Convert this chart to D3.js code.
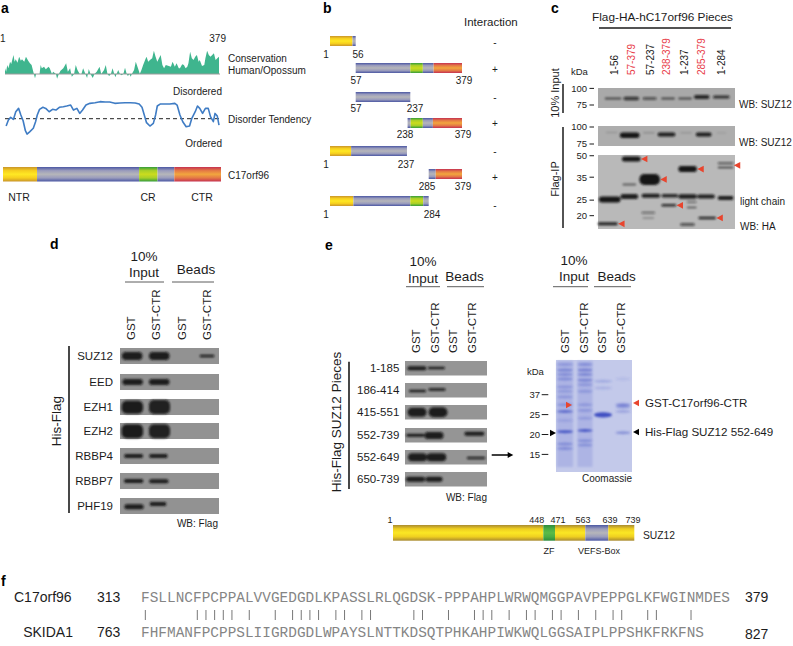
<!DOCTYPE html>
<html><head><meta charset="utf-8">
<script src="https://cdn.jsdelivr.net/npm/d3@7"></script>
<style>html,body{margin:0;padding:0;background:#fff}svg{display:block}text{font-family:"Liberation Sans",Arial,sans-serif;fill:#1c1c1c}</style>
</head><body><svg id="c" width="793" height="646"></svg>
<script>
// ---- panel a data
const consRes=[1,3,5,7,10,12,16,18,20,23,26,29,31,35,38,42,45,48,51,52,54,56,62,64,66,70,73,78,80,84,86,91,93,96,99,104,109,112,116,119,123,126,129,133,136,139,143,146,149,152,156,159,163,168,171,172,176,179,182,185,188,191,194,196,198,201,204,207,210,213,216,218,221,223,225,229,232,235,238,239,242,245,249,251,254,257,261,264,267,270,273,276,279,282,285,289,294,297,301,304,308,310,314,317,320,323,325,328,331,334,337,340,343,345,349,353,355,358,361,364,367,370,373,376,379];
const consVal=[5.7,2.3,9,5.7,12.3,10,19,12.3,14.7,11.3,17.3,13.3,14.7,12.3,17.3,13.3,10.7,9,2.3,0,-4.3,0,0,9,5.7,7.3,4.7,7.3,5.7,0,2.3,0,-4.7,0,3.3,5.7,10.7,2.3,5.7,-2.7,0,9,4,0,0,5.7,0,-4,5,0,-4,0,2.3,7.3,0,.7,4,9,0,-2,0,5.7,0,-3.3,0,4,0,-1.3,0,6.3,0,-2,0,-2.7,0,4,12.3,7.3,2.3,0,4,9,14.7,17.3,12.3,14,15.7,23.3,17.3,12.3,15.7,19,9,5.7,9,8.3,7.3,12.3,7.3,10.7,5.7,5.7,9.7,9,5.7,7.3,10.7,22.3,15.7,14,17.3,19,12.3,14,8,9,15.7,23.3,19,17.3,19,20.7,14,15.7,17.3];
const disRes=[3,7,11,16,20,25,29,33,37,40,45,51,55,58,62,68,73,79,85,91,97,104,110,117,122,128,133,138,144,151,160,169,178,186,195,204,213,222,231,238,243,247,251,257,263,267,270,275,284,292,301,305,310,315,321,327,331,337,341,345,350,355,360,364,369,372,376,379];
const disVal=[.439,.489,.511,.495,.558,.586,.531,.483,.4,.372,.392,.42,.475,.531,.578,.595,.586,.558,.578,.572,.595,.6,.606,.614,.572,.586,.544,.572,.614,.628,.633,.642,.639,.639,.628,.631,.633,.633,.631,.622,.595,.531,.467,.439,.461,.531,.606,.622,.622,.622,.628,.614,.531,.475,.433,.439,.503,.558,.606,.586,.544,.586,.586,.517,.475,.544,.522,.447];
const proteinSegs=[[1,60,"ntr"],[60,237,"lnk"],[237,269,"cr"],[269,298,"lnk"],[298,379,"ctr"]];
const regionNames=["NTR","CR","CTR"];
// ---- panel b data
const fragments=[
 {a:"1",b:"56",i:"-",segs:[[1,50,"ntr"],[50,57,"lnk"]]},
 {a:"57",b:"379",i:"+",segs:[[57,237,"lnk"],[237,269,"cr"],[269,298,"lnk"],[298,379,"ctr"]]},
 {a:"57",b:"237",i:"-",segs:[[57,237,"lnk"]]},
 {a:"238",b:"379",i:"+",segs:[[228,238,"lnk"],[238,269,"cr"],[269,296,"lnk"],[296,379,"ctr"]]},
 {a:"1",b:"237",i:"-",segs:[[1,47,"ntr"],[47,226,"lnk"]]},
 {a:"285",b:"379",i:"+",segs:[[284,304,"lnk"],[304,379,"ctr"]]},
 {a:"1",b:"284",i:"-",segs:[[1,52,"ntr"],[52,237,"lnk"],[237,270,"cr"],[270,284,"lnk"]]}];
// ---- panel c data
const cLanes=["1-56","57-379","57-237","238-379","1-237","285-379","1-284"];
const cHits=["57-379","238-379","285-379"];
// band: lane, migration %, thickness, darkness, width (lanes), offset (lanes)
const cInput=[[0,53,2,.6,.85,.27],[1,53,3.5,.75,.8,.2],[2,53,2.5,.65,.7,.14],[3,53,2,.6,.7,.08],[4,52,2,.6,.7,-.05],[5,45,4,.85,.8,-.2],[6,45,3,.8,.85,-.2]];
const cIP=[[0,33,1.5,.15,.6,.2],[1,46,5.5,1,1,.12],[2,34,1.5,.2,.6,.1],[3,42,4,.95,.9,0],[4,34,1.5,.15,.6,0],[5,42,4,.95,.8,-.1],[6,34,1.2,.12,.5,-.2]];
const cHA=[[0,60,6,1,1.1,.1],[0,93,3,.9,1.02,0],[1,5.4,5,1,.95,.2],[1,40,2,.5,.7,.1],[1,56,5,.95,.9,.1],[2,33,11,1,1.05,.14],[2,55,4,.9,.95,.2],[2,78,2,.5,.7,.07],[2,85,1.5,.3,.6,.07],[3,55,3.5,.85,.85,.17],[3,68,2.5,.85,.75,.12],[4,19,6,1,.95,.08],[4,56,4.5,.95,.95,.08],[4,63.5,1.5,.6,.5,.29],[4,71,1.5,.6,.5,.29],[4,94,3,.6,.75,.07],[5,85,2.5,.85,.9,.08],[5,56,4,.95,.9,.02],[6,58,4,.95,.8,.02],[6,11,1.5,.8,.8,.02],[6,17,1.5,.75,.8,.02]];
const cHAMarked=[1,2,5,10,11,16,20];
const cInputTicks=[["100",0.02],["75",.85]];
const cIPTicks=[["100",.05],["75",.9]];
const cHATicks=[["50",.01],["35",.30],["25",.61],["20",.82]];
// ---- panel d data
const dLanes=["GST","GST-CTR","GST","GST-CTR"];
const dRows=["SUZ12","EED","EZH1","EZH2","RBBP4","RBBP7","PHF19"];
// row, lane, mig %, thickness, darkness, width, offset
const dBands=[[0,0,50,8,.95,.98,-.04],[0,1,50,8,.95,.98,.06],[0,3,50,2.5,.9,.7,.0],[1,0,50,6,.95,.98,-.02],[1,1,50,6,.95,.98,.06],[2,0,52,13,.9,1.02,-.03],[2,1,50,14,.92,1,.07],[3,0,52,14,.9,1.02,-.03],[3,1,52,14,.92,1,.07],[4,0,50,4,.95,.9,.03],[4,1,50,4,.95,.88,.02],[5,0,50,4,.95,.92,.03],[5,1,52,4,.95,.92,.04],[6,0,54,5,.95,.92,.05],[6,1,38,4,.95,.8,.0]];
// ---- panel e data
const ePieces=["1-185","186-414","415-551","552-739","552-649","650-739"];
const eBands=[[0,0,50,4,.95,.95,.02],[0,1,48,2.5,.95,.85,.02],[1,0,55,2.5,.95,.85,.05],[1,1,45,2.5,.95,.85,.05],[2,0,50,9,.95,.95,.03],[2,1,50,10,.95,.95,.1],[3,0,50,2.8,.95,.92,-.05],[3,1,52,7,.95,.95,-.1],[3,3,40,4,.95,1,-.08],[4,0,50,8,.95,.95,.05],[4,1,50,8,.95,.98,.02],[4,3,55,2.5,.85,.92,.0],[5,0,50,5,.95,.95,-.05],[5,1,50,5,.95,.85,-.1]];
// ---- gel data: lane, mig %, strength
const gelBands=[[0,4,.3],[0,9,.45],[0,13,.4],[0,17,.4],[0,24,.3],[0,28,.25],[0,33,.3],[0,40,.35],[0,46,.7],[0,54,.2],[0,64,.9],[0,75,.4],[0,79,.4],
 [1,4,.4],[1,9,.5],[1,13,.45],[1,18,.45],[1,22,.3],[1,28,.3],[1,40,.3],[1,45,.3],[1,52,.25],[1,63,.9],[1,72,.35],[1,76,.35],
 [2,19,.25],[2,25,.2],[2,49,1.6],[3,17,.12],[3,40,.55],[3,42,.4],[3,46,.3],[3,65,.45]];
const gelKda=["37","25","20","15"];
// ---- SUZ12 schematic
const suzTicks=[1,448,471,563,639,739];
const suzSegs=[[1,448,"yel"],[448,471,"zf"],[471,563,"yel"],[563,639,"lnk"],[639,739,"yel"]];
// ---- panel f data
const seqA="FSLLNCFPCPPALVVGEDGDLKPASSLRLQGDSK-PPPAHPLWRWQMGGPAVPEPPGLKFWGINMDES";
const seqB="FHFMANFPCPPSLIIGRDGDLWPAYSLNTTKDSQTPHKAHPIWKWQLGGSAIPLPPSHKFRKFNS";

const svg=d3.select("#c");
const defs=svg.append("defs");
const stops={
 ntr:["#c9952a","#f6cf1e","#ffe824","#f6cf1e","#c9952a"],
 yel:["#a98a30","#efcf20","#fbe724","#efcf20","#a98a30"],
 lnk:["#4b57a3","#9a9cbc","#b6b6ba","#9a9cbc","#4b57a3"],
 cr:["#339c3a","#a9cf28","#cbdc1e","#a9cf28","#339c3a"],
 zf:["#2c8a3c","#49ad44","#5bbb48","#49ad44","#2c8a3c"],
 ctr:["#c63250","#e47a45","#f2a63e","#e47a45","#c63250"]};
Object.entries(stops).forEach(([k,v])=>{
 const g=defs.append("linearGradient").attr("id","g-"+k).attr("x1",0).attr("x2",0).attr("y1",0).attr("y2",1);
 v.forEach((c,i)=>g.append("stop").attr("offset",i/(v.length-1)).attr("stop-color",c));});
defs.append("filter").attr("id","soft").attr("filterUnits","userSpaceOnUse").attr("x",0).attr("y",0).attr("width",793).attr("height",646)
 .append("feGaussianBlur").attr("stdDeviation",.85);
defs.append("filter").attr("id","soft2").attr("filterUnits","userSpaceOnUse").attr("x",0).attr("y",0).attr("width",793).attr("height",646)
 .append("feGaussianBlur").attr("stdDeviation",.9);

function T(x,y,s,o={}){
 const n=svg.append("text").attr("x",x).attr("y",y).attr("dy",".35em").text(s)
  .attr("font-size",o.size||10).attr("text-anchor",o.anchor||"start");
 if(o.bold)n.attr("font-weight","bold");
 if(o.fill)n.style("fill",o.fill);
 return n;}
function R(x,y,s,o={}){ // rotated, y is the text start (bottom)
 const n=svg.append("text").attr("transform",`translate(${x},${y}) rotate(-90)`).attr("dy",".35em").text(s)
  .attr("font-size",o.size||10).attr("text-anchor",o.anchor||"start");
 if(o.fill)n.style("fill",o.fill);
 return n;}
function L(x1,y1,x2,y2,w=1,c="#1a1a1a",dash=null){return svg.append("line").attr("x1",x1).attr("y1",y1).attr("x2",x2).attr("y2",y2).attr("stroke",c).attr("stroke-width",w).attr("stroke-dasharray",dash);}
function tri(x,y,dir,fill,s=3.4){ // dir 1 = points right, -1 = points left
 const p=d3.path();p.moveTo(x+dir*s,y);p.lineTo(x-dir*s,y-s*1.05);p.lineTo(x-dir*s,y+s*1.05);p.closePath();
 svg.append("path").attr("d",p.toString()).attr("fill",fill);}
function segs(x,y,h,list){
 svg.append("g").selectAll("rect").data(list).join("rect")
  .attr("x",d=>x(d[0])).attr("width",d=>x(d[1])-x(d[0])).attr("y",y).attr("height",h)
  .attr("fill",d=>`url(#g-${d[2]})`);}
["a","b","c","d","e","f"].forEach((l,i)=>{
 const pos=[[1,8.5],[323,8.5],[551,8.5],[50,244],[325,245],[1,581]][i];
 T(pos[0],pos[1],l,{size:14,bold:true,fill:"#000"});});

// ===== panel a
const xA=d3.scaleLinear([1,379],[5,219]);
const yC=d3.scaleLinear([-6,26],[80,48]);
const yD=d3.scaleLinear([0,1],[178.7,58.7]);
svg.append("path").datum(d3.zip(consRes,consVal))
 .attr("d",d3.area().x(d=>xA(d[0])).y0(yC(0)).y1(d=>yC(d[1])))
 .attr("fill","#3fb58e");
L(xA(1),yC(0),xA(379)+1,yC(0),1,"#9a9a9a");
L(xA(1),yD(.5),xA(379)+1,yD(.5),1,"#222","4 3");
svg.append("path").datum(d3.zip(disRes,disVal))
 .attr("d",d3.line().x(d=>xA(d[0])).y(d=>yD(d[1])))
 .attr("fill","none").attr("stroke","#3f7cc4").attr("stroke-width",1.6).attr("stroke-linejoin","round");
T(0,38,"1");T(226,38,"379",{anchor:"end"});
T(228,58,"Conservation");T(228,70,"Human/Opossum");
T(222,91,"Disordered",{anchor:"end"});T(228,119,"Disorder Tendency");T(222,143,"Ordered",{anchor:"end"});
T(228,175,"C17orf96");
const xBar=d3.scaleLinear([1,379],[3,221]);
segs(xBar,167,14.5,proteinSegs);
[19,148,202].forEach((cx,i)=>T(cx,197,regionNames[i],{anchor:"middle",size:10.5}));

// ===== panel b
T(464,22,"Interaction",{size:11.5});
const xF=d3.scaleLinear([1,57,237,284,379],[330,355.7,410.3,428.7,462]);
const bRowY=[36,63,92,118,146,169,196];
const bLabY=[54,80,108,134,164,186,214];
const bLabX=[[326,358],[356,464],[356,415],[405,463],[326,406],[427,463],[326,432]];
const bSign=[42,69,97,123,151,177,205];
fragments.forEach((f,i)=>{
 segs(xF,bRowY[i],10,f.segs);
 T(bLabX[i][0],bLabY[i],f.a,{anchor:"middle"});
 T(bLabX[i][1],bLabY[i],f.b,{anchor:"middle"});
 T(495,bSign[i],f.i,{anchor:"middle",size:10});
});

// ===== blot helper
function bands(list,x,yFn,wFn){
 svg.append("g").attr("filter","url(#soft)").selectAll("rect").data(list).join("rect")
  .attr("x",d=>x(d)-wFn(d)/2).attr("width",d=>wFn(d))
  .attr("y",d=>yFn(d)-d[d.length-4]/2).attr("height",d=>d[d.length-4])
  .attr("rx",d=>Math.min(d[d.length-4]/2,5))
  .attr("fill","#131313").attr("opacity",d=>d[d.length-3]);
}
// ===== panel c
T(592,17,"Flag-HA-hC17orf96 Pieces",{size:11.8});
L(599,28,731,28,1.4);
const laneC=d3.scaleBand(cLanes,[598,735]);
const laneCx=[614.3,631.7,650,666.7,684.7,701.7,721.7];
cLanes.forEach((l,i)=>R(laneCx[i],75,l,{fill:cHits.includes(l)?"#e8404a":"#1c1c1c"}));
T(571,72,"kDa",{size:9.5});
R(555,93,"10% Input",{size:11,anchor:"middle"});R(555,179,"Flag-IP",{size:11,anchor:"middle"});
L(563,84,563,113,1.5);L(563,127,563,228,1.5);
function cBlot(top,bot,fill,list,ticks){
 svg.append("rect").attr("x",598).attr("y",top).attr("width",137).attr("height",bot-top).attr("fill",fill);
 const y=d3.scaleLinear([0,100],[top,bot]);
 const cx=d=>laneC(cLanes[d[0]])+laneC.bandwidth()*(.5+d[5]);
 bands(list,cx,d=>y(d[1]),d=>d[4]*laneC.bandwidth());
 ticks.forEach(([s,f])=>{const yy=top+f*(bot-top);T(587,yy,s,{anchor:"end",size:9.5});L(589.5,yy,594,yy,1);});
 return {cx,y};
}
cBlot(88,108,"#a9a9a9",cInput,cInputTicks);
cBlot(126,146,"#adadad",cIP,cIPTicks);
const ha=cBlot(155,229,"#b9b9b9",cHA,cHATicks);
cHAMarked.forEach(i=>{const d=cHA[i];
 const mid=i===20?d[1]-3:d[1];
 tri(ha.cx(d)+d[4]*laneC.bandwidth()/2+3.6,ha.y(mid),-1,"#e8452e",3.2);});
T(739,104,"WB: SUZ12");T(739,142,"WB: SUZ12");T(740,201,"light chain");T(740,226,"WB: HA");

// ===== header helper for d/e/gel
function head(inX,inLine,beX,beLine,lineY,yTop,yIn,yBe,laneX,laneBottom){
 T(inX,yTop,"10%",{anchor:"middle",size:13.5});T(inX,yIn,"Input",{anchor:"middle",size:13.5});
 T(beX,yBe,"Beads",{anchor:"middle",size:13.5});
 L(inLine[0],lineY,inLine[1],lineY,.8,"#333");L(beLine[0],lineY,beLine[1],lineY,.8,"#333");
 dLanes.forEach((l,i)=>R(laneX[i],laneBottom,l,{size:11.5}));
}
function rowBlots(rows,x0,x1,tops,hts,labelX,fill,list,lanes,lw){
 rows.forEach((r,i)=>{
  svg.append("rect").attr("x",x0).attr("y",tops[i]).attr("width",x1-x0).attr("height",hts).attr("fill",fill);
  T(labelX,tops[i]+hts/2,r,{anchor:"end",size:11.5});
 });
 const y=(d)=>tops[d[0]]+d[2]/100*hts;
 bands(list,d=>lanes[d[1]]+d[6]*lw,y,d=>d[5]*lw);
}
// ===== panel d
head(144,[125,164],196,[172,214],282,256,272.5,269.5,[131,156,182,207],340);
rowBlots(dRows,120,219,[348,374,399,423,448,473,498],16,113,"#929292",dBands,[133,158,184,207],21);
L(69,346,69,513,1.6);
R(56,421,"His-Flag",{size:13.5,anchor:"middle"});
T(218,523,"WB: Flag",{anchor:"end"});

// ===== panel e
head(423,[406,440],464.5,[447,484],286.7,261.5,278,276.7,[416,435,453,472],353);
rowBlots(ePieces,405,487,[361,383,405,428,450,472],14.5,399.3,"#959595",eBands,[416.5,436,456,476],20);
L(349,361.7,349,489,1.6);
R(336.5,422,"His-Flag SUZ12 Pieces",{size:13.5,anchor:"middle"});
T(487,497,"WB: Flag",{anchor:"end"});
L(491.7,455,511,455,1.5,"#000");tri(510.5,455,1,"#000",2.8);

// ===== gel
head(574,[553,588],616.7,[594,631],286.7,260,276,276.6,[565,584,602,620.7],353);
svg.append("rect").attr("x",556).attr("y",360).attr("width",76).attr("height",112).attr("fill","#c3c9ea");
const gelX=[565,585,603,623],gelW=[16,15,18,15];
const gy=d3.scaleLinear([0,100],[360,472]);
svg.append("g").attr("filter","url(#soft2)").selectAll("rect").data([0,1]).join("rect")
 .attr("x",d=>gelX[d]-gelW[d]/2).attr("width",d=>gelW[d]).attr("y",361).attr("height",106).attr("fill","#a5aee2").attr("opacity",.75);
svg.append("g").attr("filter","url(#soft2)").selectAll("ellipse").data(gelBands).join("ellipse")
 .attr("cx",d=>gelX[d[0]]).attr("cy",d=>gy(d[1]))
 .attr("rx",d=>gelW[d[0]]/2).attr("ry",d=>d[2]>1?2.6:1.5)
 .attr("fill","#3f4fc2").attr("opacity",d=>Math.min(1,d[2]));
T(527,371.7,"kDa",{size:9.5});
gelKda.forEach((k,i)=>{const yy=394.7+i*19.9;T(540,yy,k,{anchor:"end",size:9.5});L(541.7,yy,548.3,yy,1);});
tri(569,405,1,"#e8452e",3);tri(636,403,-1,"#e8452e",3);tri(553,433,1,"#000",3);tri(636,432,-1,"#000",3);
T(645,403.3,"GST-C17orf96-CTR",{size:11.6});T(645,431.7,"His-Flag SUZ12 552-649",{size:11.6});
T(632,478,"Coomassie",{anchor:"end",size:10});

// ===== SUZ12 schematic
const xS=d3.scaleLinear(suzTicks,[393,543.3,555,585.3,608.3,634.3]);
segs(xS,525,15.7,suzSegs);
const suzCx=[390,536.7,558,583,610,633];
suzTicks.forEach((t,i)=>T(suzCx[i],520,t,{anchor:"middle",size:9}));
T(643,535,"SUZ12",{size:10.3});
T(549,550.7,"ZF",{anchor:"middle",size:9});T(599,550.7,"VEFS-Box",{anchor:"middle",size:9});

// ===== panel f
const xSeq=d3.scaleBand(d3.range(seqA.length),[141,730]);
T(14,597,"C17orf96",{size:14});T(73,632,"SKIDA1",{size:14,anchor:"end"});
T(97,597,"313",{size:14});T(97,632,"763",{size:14});
T(745,597,"379",{size:14});T(745,634,"827",{size:14});
[[seqA,597],[seqB,632]].forEach(([s,y])=>{
 svg.append("g").selectAll("text").data(s.split("")).join("text")
  .attr("x",(d,i)=>xSeq(i)+xSeq.bandwidth()/2).attr("y",y).attr("dy",".35em").attr("text-anchor","middle")
  .attr("font-size",14.4).style("font-family",'"Liberation Mono",monospace').style("fill","#858585").text(d=>d);
});
const matches=d3.range(Math.min(seqA.length,seqB.length)).filter(i=>seqA[i]===seqB[i]);
svg.append("g").selectAll("line").data(matches).join("line")
 .attr("x1",i=>xSeq(i)+xSeq.bandwidth()/2).attr("x2",i=>xSeq(i)+xSeq.bandwidth()/2)
 .attr("y1",610).attr("y2",620).attr("stroke","#777").attr("stroke-width",1);
</script></body></html>
